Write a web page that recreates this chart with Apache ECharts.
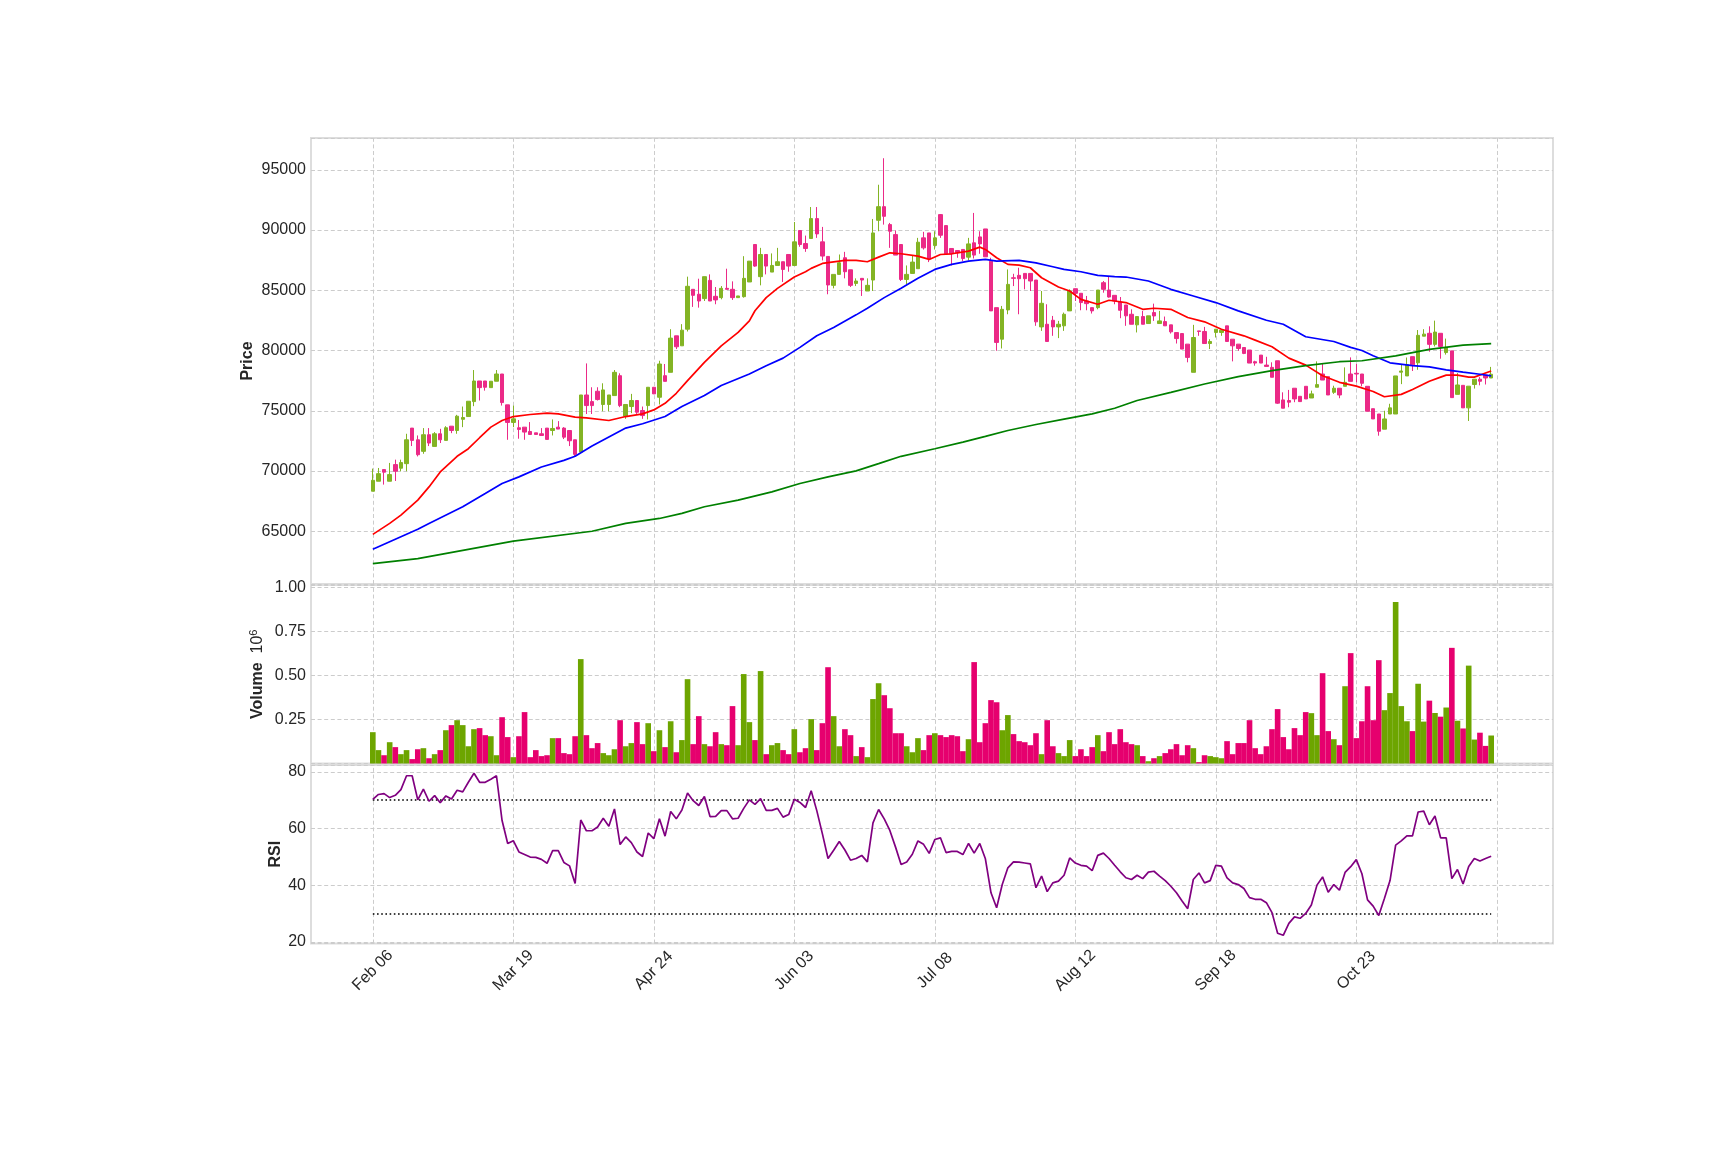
<!DOCTYPE html>
<html><head><meta charset="utf-8">
<script src="https://cdn.jsdelivr.net/npm/echarts@6/dist/echarts.min.js"></script>
<style>html,body{margin:0;padding:0;background:#fff;}#chart{width:1725px;height:1150px;}</style>
</head><body><div id="chart"></div>
<script>
// x tick labels (one every 25 trading sessions)
const tickLabels = ['Feb 06','Mar 19','Apr 24','Jun 03','Jul 08','Aug 12','Sep 18','Oct 23',''];
const TICK_STEP = 25;

// daily candles: [open, high, low, close]
const candles = [
[68320,70200,68320,69230],[69150,70250,69150,69780],[70120,70120,68870,69900],[69150,70670,69150,69700],[70530,70940,69170,69980],
[70230,70940,69980,70700],[70610,73090,69980,72590],[73560,73560,72070,72540],[72590,72950,71210,71350],[71630,73560,71430,73010],
[73010,73560,72070,72320],[72040,73230,72040,73090],[73090,73500,72320,72590],[72540,73720,72540,73590],[73720,73720,73140,73360],
[73360,74660,73090,74550],[74290,75350,73640,74440],[74520,75790,74520,75790],[75760,78380,75380,77470],[77470,77470,75850,76920],
[77470,77470,76670,76950],[76920,77450,76920,77450],[77450,78380,77450,78050],[78050,78050,75430,75680],[75490,75490,72590,74030],
[74030,75430,73640,74330],[73590,74230,72680,73450],[73640,73640,72590,73230],[73280,74060,73030,73030],[73170,73170,73030,73030],
[73090,73560,72950,72950],[73560,73560,72620,72620],[73360,74280,72950,73530],[73640,74140,73480,73480],[73560,73640,72650,72810],
[73360,73360,72070,72510],[72590,72590,71210,71380],[71570,76310,71570,76310],[76310,78930,74730,75430],[75760,76950,74730,75430],
[76620,76950,75850,75930],[75520,77280,74960,76730],[75520,76310,74960,76310],[76260,78380,76260,78190],[77910,78110,75300,75430],
[74550,75520,74330,75520],[75350,76400,74800,75850],[75850,75850,74740,74880],[75020,75350,74330,74600],[75430,76950,74280,76950],
[76950,76950,76400,76400],[76120,79150,75520,78880],[77910,78880,77440,77440],[78190,81770,78190,81030],[81220,81220,80120,80310],
[80390,82190,80390,81690],[81770,86130,81580,85330],[85080,85080,83620,84580],[84670,85960,83560,84110],[84310,86130,84110,86130],
[85820,86320,84110,84110],[84500,85270,83840,84200],[84390,85350,84250,85160],[85160,86790,85080,85080],[85080,85740,84200,84390],
[84390,84530,84390,84530],[84470,87830,84390,85990],[85690,87420,85690,87420],[88800,88800,86950,87010],[86130,88520,85410,87970],
[87970,87970,86320,87010],[86510,88060,86510,87060],[87060,88520,87060,87370],[87370,87370,85690,86730],[87970,87970,86540,87010],
[87060,90670,87060,89020],[89960,89960,88610,88800],[88880,89540,88190,88470],[89300,91910,89300,90950],[90950,91910,89350,89680],
[89020,90260,87480,87840],[87810,87810,84670,85440],[85410,86320,85160,86320],[86320,87970,86320,87280],[87700,88190,85990,86540],
[86700,86700,85270,85410],[85570,85990,85350,85770],[85990,85990,84530,85850],[84940,85990,84940,85410],[85850,90920,84940,89760],
[90810,93760,89900,91940],[91940,95960,90450,91140],[90450,90590,88520,89900],[89620,89960,87920,87920],[88800,88800,85770,85900],
[85900,87060,85490,86320],[86400,87890,86400,87340],[86790,89350,86790,88990],[89350,89850,88380,88520],[89760,89760,87340,87640],
[88720,89900,88380,89350],[91280,91330,89350,89570],[90370,90370,88030,88030],[88470,88470,87060,88030],[88300,88300,87700,88110],
[88390,88390,87420,87640],[87750,89350,87480,88850],[88940,91420,87640,87920],[89430,89900,88030,88850],[90090,90090,87780,87780],
[87420,87700,83290,83290],[83560,83560,79980,80670],[80940,83700,80170,83420],[83370,86730,83010,85490],[86040,86370,85350,85990],
[86240,86870,83010,85960],[86400,86400,85080,85960],[86400,86400,84940,85770],[85850,85850,82050,82380],[81960,84940,81630,83920],
[82180,83840,80750,80750],[82510,82870,81220,81960],[81960,82460,81030,82180],[82050,83150,81630,83010],[83290,85080,83290,84940],
[85130,85130,84110,84750],[84750,84750,83340,83980],[84110,84530,83340,83890],[83560,83560,83070,83290],[83560,85020,83420,85020],
[85630,85770,84800,85080],[85020,86180,84390,84440],[84580,84580,83840,84110],[84030,84440,82680,83340],[83780,83780,82050,82880],
[83010,83420,82180,82180],[82130,82820,81500,82820],[82820,83290,82180,82180],[82240,82880,82240,82880],[83150,83890,82460,82870],
[82240,83290,82240,82460],[82400,82820,82050,82050],[82130,82130,81410,81550],[81490,81490,80580,80990],[81410,81410,80120,80120],
[80530,80530,79020,79430],[78190,82130,78190,81080],[81630,81630,81220,81580],[81580,81960,80580,80580],[80580,80940,80120,80750],
[81500,81770,81080,81770],[81500,81690,81220,81690],[82050,82050,80750,80750],[80940,80940,79100,80390],[80530,80530,79980,80170],
[80250,80250,79700,79760],[80040,80040,78960,78960],[79070,79150,78740,78960],[79620,79620,78960,78960],[78790,79480,78680,78680],
[78600,79020,77780,77780],[79150,79150,75570,75630],[75900,76530,75210,75210],[75850,76730,75290,75710],[76870,76870,75710,75980],
[76200,76200,75760,75760],[77030,77030,75980,75980],[76060,76670,76060,76400],[76950,79100,76950,77170],[78050,78880,77550,77550],
[77830,77830,76310,76310],[76530,77080,76400,76870],[76870,76870,76040,76310],[77030,78600,77030,77360],[78050,79430,77440,77440],
[78110,78880,77360,78050],[78050,78050,77030,77280],[77030,77030,74960,74960],[75170,75170,74320,74320],[74730,74730,72930,73300],
[73470,75000,73470,74320],[74730,75580,74730,75240],[74730,77890,74730,77890],[78200,78880,77210,78300],[77890,79420,77890,78810],
[79490,79490,78300,78810],[78980,81700,78400,81260],[81190,81770,81190,81360],[81430,82010,79900,80510],[80510,82480,80340,81530],
[81430,81430,79320,80340],[79830,80990,79660,80240],[79970,79970,76090,76090],[76360,78130,76360,77140],[77110,77110,75240,75240],
[75240,77040,74150,77040],[77180,77620,76840,77620],[77620,77790,77110,77450],[77960,77960,77180,77720],[77720,78640,77720,78030]
];

// volume in millions
const volume = [
0.178,0.076,0.047,0.121,0.093,0.053,0.076,0.025,0.081,0.087,0.030,0.053,0.076,0.189,0.218,0.246,0.218,0.098,0.195,0.201,
0.161,0.155,0.047,0.263,0.150,0.036,0.155,0.292,0.036,0.076,0.042,0.047,0.144,0.144,0.059,0.053,0.155,0.593,0.161,0.087,
0.116,0.059,0.047,0.081,0.246,0.098,0.116,0.235,0.110,0.229,0.070,0.189,0.093,0.240,0.064,0.133,0.479,0.110,0.269,0.110,
0.098,0.178,0.110,0.104,0.326,0.104,0.508,0.235,0.133,0.525,0.053,0.104,0.116,0.076,0.053,0.195,0.064,0.087,0.252,0.076,
0.229,0.547,0.269,0.098,0.195,0.161,0.042,0.093,0.036,0.366,0.456,0.388,0.314,0.172,0.172,0.098,0.064,0.144,0.076,0.161,
0.172,0.161,0.150,0.161,0.155,0.070,0.138,0.576,0.121,0.229,0.360,0.348,0.189,0.275,0.167,0.127,0.121,0.104,0.172,0.053,
0.246,0.098,0.059,0.042,0.133,0.042,0.081,0.042,0.093,0.161,0.070,0.178,0.110,0.195,0.121,0.110,0.104,0.042,0.013,0.030,
0.042,0.059,0.081,0.110,0.047,0.104,0.087,0.008,0.047,0.042,0.036,0.030,0.127,0.053,0.116,0.116,0.246,0.087,0.053,0.098,
0.195,0.309,0.150,0.081,0.201,0.161,0.292,0.286,0.161,0.513,0.184,0.138,0.104,0.439,0.627,0.144,0.240,0.439,0.246,0.587,
0.303,0.400,0.917,0.326,0.240,0.184,0.453,0.238,0.357,0.287,0.266,0.318,0.657,0.243,0.199,0.556,0.136,0.175,0.100,0.159
];

// RSI per session
const rsi = [
70.3,72.0,72.3,70.9,71.7,73.7,78.6,78.6,70.1,73.9,69.6,71.6,69.1,71.5,70.4,73.5,72.9,76.3,79.5,76.3,
76.3,77.4,78.6,62.8,54.7,55.7,51.7,50.8,49.9,49.8,49.1,47.7,52.2,52.2,48.0,46.8,40.6,63.0,59.2,59.2,
60.5,63.6,60.8,66.9,54.3,57.0,55.0,51.7,50.1,58.4,56.4,63.4,57.3,66.0,63.4,66.5,72.5,69.8,68.1,71.3,
64.2,64.3,66.3,66.3,63.4,63.6,67.1,70.1,68.5,70.5,66.4,66.4,67.1,64.0,64.9,70.3,69.2,67.4,73.3,66.3,
58.1,49.4,52.3,55.4,52.4,48.8,49.4,50.5,48.2,62.0,66.7,63.4,59.3,53.5,47.3,48.2,50.9,55.6,54.4,51.2,
56.1,56.7,51.5,51.9,51.9,50.8,54.7,51.3,54.7,49.3,37.3,32.0,40.2,46.1,48.2,48.1,47.8,47.5,39.1,43.2,
37.7,40.8,41.4,43.5,49.6,47.8,47.0,46.7,45.1,50.5,51.3,49.4,47.0,44.7,42.6,42.0,43.5,42.3,44.6,44.9,
43.2,41.6,39.6,37.3,34.4,31.7,42.0,44.3,40.8,41.6,47.0,46.7,42.6,40.8,40.2,38.8,35.6,35.0,35.0,33.8,
30.3,23.0,22.3,26.5,28.8,28.3,30.0,33.0,40.0,42.9,37.5,40.2,38.2,44.5,46.5,49.0,44.0,34.8,32.6,29.3,
35.3,41.6,54.1,55.6,57.4,57.4,65.8,66.1,61.3,64.4,56.7,56.7,42.3,45.5,40.4,46.6,49.4,48.5,49.4,50.2
];

// moving averages: [session index, value]
const maShort = [[0,64740],[3,65650],[5,66340],[8,67580],[10,68680],[12,69920],[15,71220],[17,71850],[19,72760],[21,73640],[23,74190],[25,74520],[28,74690],[31,74800],[33,74740],[36,74470],[38,74410],[42,74190],[45,74520],[48,74740],[50,75070],[52,75620],[54,76450],[56,77500],[59,79020],[62,80390],[65,81500],[67,82460],[68,83300],[70,84390],[72,85160],[75,86100],[77,86540],[78,86820],[80,87230],[84,87480],[86,87480],[88,87370],[90,87750],[92,88110],[94,88030],[97,87830],[99,87560],[101,87970],[103,88030],[106,88250],[108,88580],[109,88390],[111,87700],[113,87150],[115,87090],[117,86870],[119,86040],[122,85270],[124,84940],[126,84250],[129,83840],[131,84170],[132,84110],[134,83980],[137,83420],[139,83510],[142,83420],[145,82740],[148,82380],[151,81770],[155,81220],[157,80860],[160,80310],[163,79370],[166,78790],[169,77910],[172,77360],[175,77040],[178,76600],[180,76160],[183,76360],[185,76770],[188,77450],[190,77790],[191,77960],[193,77960],[195,77790],[196,77790],[198,78130],[199,78300]];
const maMid = [[0,63500],[8,65160],[10,65650],[16,67030],[20,68130],[23,68960],[26,69510],[30,70330],[34,70880],[36,71220],[39,72070],[42,72820],[45,73560],[48,73920],[52,74520],[55,75350],[59,76260],[62,77090],[67,78050],[70,78740],[73,79370],[76,80260],[79,81220],[82,81910],[86,82960],[88,83510],[91,84390],[94,85160],[97,85990],[100,86730],[103,87150],[106,87420],[109,87560],[111,87420],[115,87480],[118,87280],[121,86950],[123,86730],[126,86540],[129,86240],[132,86130],[134,86100],[138,85770],[142,85080],[146,84530],[150,83980],[154,83290],[159,82510],[162,82180],[166,81140],[171,80750],[174,80260],[176,80000],[178,79560],[181,78980],[185,78740],[188,78640],[191,78400],[194,78200],[197,78030],[199,77890]];
const maLong = [[0,62310],[8,62730],[25,64180],[39,65000],[45,65650],[51,66060],[55,66480],[59,67030],[65,67580],[71,68270],[76,68960],[81,69510],[86,70010],[90,70610],[94,71220],[100,71850],[105,72400],[109,72870],[113,73360],[118,73860],[123,74300],[128,74740],[132,75210],[136,75850],[142,76530],[148,77220],[154,77830],[160,78330],[166,78740],[172,79070],[176,79150],[182,79560],[188,80100],[194,80440],[199,80580]];

const RSI_UPPER = 70, RSI_LOWER = 30;

// ---- build ----
const PAD_L = 11, PAD_R = 11;          // empty sessions either side (x range -11 .. 210)
const N = candles.length;
const cat = i => 'c' + i;
const cats = [];
for (let k = -PAD_L; k < N + PAD_R; k++) cats.push(cat(k));

const UP_C = '#83b424', DN_C = '#eb2a87', UP_V = '#6da500', DN_V = '#e6006e';
const TXT = '#262626';
const gridLine = {color: '#cccccc', width: 1, type: [4, 2.6]};
const vGridData = tickLabels.map((_, k) => ({xAxis: cat(k * TICK_STEP)}));
const vGrid = () => ({silent: true, z: 0, symbol: ['none', 'none'], label: {show: false}, lineStyle: gridLine, emphasis: {disabled: true}, data: vGridData, animation: false});

const candleData = candles.map((c, i) => [cat(i), c[0], c[3], c[2], c[1]]);
const volData = volume.map((v, i) => ({value: [cat(i), v], itemStyle: {color: candles[i][3] >= candles[i][0] ? UP_V : DN_V}}));
const rsiData = rsi.map((v, i) => [cat(i), v]);
const maData = arr => arr.map(([i, v]) => [cat(i), v]);

const GL = 311, GR = 172;
const xBase = (gi, showLabels) => ({
  type: 'category', gridIndex: gi, data: cats, boundaryGap: false,
  axisLine: {show: false}, axisTick: {show: false}, splitLine: {show: false},
  axisLabel: showLabels ? {
    show: true, fontSize: 16, color: TXT, fontFamily: 'Liberation Sans',
    rotate: 45, align: 'center', verticalAlign: 'middle', margin: 27,
    interval: (idx) => { const k = idx - PAD_L; return k >= 0 && k % TICK_STEP === 0 && !!tickLabels[k / TICK_STEP]; },
    formatter: (val) => { const k = parseInt(val.slice(1), 10); return (k >= 0 && k % TICK_STEP === 0) ? (tickLabels[k / TICK_STEP] || '') : ''; }
  } : {show: false}
});
const yLab = (fmt) => ({fontSize: 16, color: TXT, fontFamily: 'Liberation Sans', margin: 5, showMinLabel: false, showMaxLabel: false, formatter: fmt});
const nameStyle = {fontSize: 16, fontWeight: 'bold', color: TXT, fontFamily: 'Liberation Sans'};

const option = {
  animation: false,
  backgroundColor: '#ffffff',
  grid: [
    {left: GL, right: GR, top: 138, height: 446, show: true, borderColor: '#dddddd', borderWidth: 2, backgroundColor: 'transparent'},
    {left: GL, right: GR, top: 585, height: 178.5, show: true, borderColor: '#dddddd', borderWidth: 2, backgroundColor: 'transparent'},
    {left: GL, right: GR, top: 765, height: 178.5, show: true, borderColor: '#dddddd', borderWidth: 2, backgroundColor: 'transparent'}
  ],
  xAxis: [xBase(0, false), xBase(1, false), xBase(2, true)],
  yAxis: [
    {type: 'value', gridIndex: 0, min: 60620, max: 97640, splitNumber: 7,
     name: 'Price', nameLocation: 'middle', nameRotate: 90, nameGap: 55, nameMoveOverlap: false, nameTextStyle: nameStyle,
     axisLine: {show: false}, axisTick: {show: false}, splitLine: {lineStyle: gridLine},
     axisLabel: yLab(v => (v % 5000 === 0 ? String(v) : ''))},
    {type: 'value', gridIndex: 1, min: 0, max: 1.014, interval: 0.25,
     name: '{n|Volume}{b|  10}{s|6}', nameLocation: 'middle', nameRotate: 90, nameGap: 44, nameMoveOverlap: false,
     nameTextStyle: {color: TXT, fontFamily: 'Liberation Sans', rich: {
        n: {fontSize: 16, fontWeight: 'bold', color: TXT, fontFamily: 'Liberation Sans'},
        b: {fontSize: 16, color: TXT, fontFamily: 'Liberation Sans'},
        s: {fontSize: 11, color: TXT, fontFamily: 'Liberation Sans', verticalAlign: 'top', padding: [0, 0, 8, 0]}}},
     axisLine: {show: false}, axisTick: {show: false}, splitLine: {lineStyle: gridLine},
     axisLabel: yLab(v => (Math.abs(v * 4 - Math.round(v * 4)) < 1e-6 && v > 0 ? v.toFixed(2) : ''))},
    {type: 'value', gridIndex: 2, min: 19.4, max: 82.4, splitNumber: 3,
     name: 'RSI', nameLocation: 'middle', nameRotate: 90, nameGap: 27, nameMoveOverlap: false, nameTextStyle: nameStyle,
     axisLine: {show: false}, axisTick: {show: false}, splitLine: {lineStyle: gridLine},
     axisLabel: yLab(v => (v % 20 === 0 ? String(v) : ''))}
  ],
  series: [
    {type: 'candlestick', xAxisIndex: 0, yAxisIndex: 0, data: candleData, encode: {x: 0, y: [1, 2, 3, 4]},
     barWidth: '70%', z: 2,
     itemStyle: {color: UP_C, color0: DN_C, borderColor: UP_C, borderColor0: DN_C, borderWidth: 1},
     markLine: vGrid()},
    {type: 'line', xAxisIndex: 0, yAxisIndex: 0, data: maData(maShort), showSymbol: false, z: 3,
     lineStyle: {color: '#ff0000', width: 1.7}},
    {type: 'line', xAxisIndex: 0, yAxisIndex: 0, data: maData(maMid), showSymbol: false, z: 3,
     lineStyle: {color: '#0000ff', width: 1.7}},
    {type: 'line', xAxisIndex: 0, yAxisIndex: 0, data: maData(maLong), showSymbol: false, z: 3,
     lineStyle: {color: '#008000', width: 1.7}},
    {type: 'bar', xAxisIndex: 1, yAxisIndex: 1, data: volData, barWidth: '100%', z: 2,
     markLine: vGrid()},
    {type: 'line', xAxisIndex: 2, yAxisIndex: 2, data: rsiData, showSymbol: false, z: 3,
     lineStyle: {color: '#800080', width: 1.7},
     markLine: {silent: true, z: 2, symbol: ['none', 'none'], label: {show: false}, emphasis: {disabled: true},
       lineStyle: {color: '#000000', width: 1.6, type: [1.6, 2.6]},
       data: [[{coord: [cat(0), RSI_UPPER]}, {coord: [cat(N - 1), RSI_UPPER]}],
              [{coord: [cat(0), RSI_LOWER]}, {coord: [cat(N - 1), RSI_LOWER]}]]}},
    {type: 'line', xAxisIndex: 2, yAxisIndex: 2, data: [], z: 0, markLine: vGrid()}
  ]
};
const chart = echarts.init(document.getElementById('chart'));
chart.setOption(option);
</script></body></html>
